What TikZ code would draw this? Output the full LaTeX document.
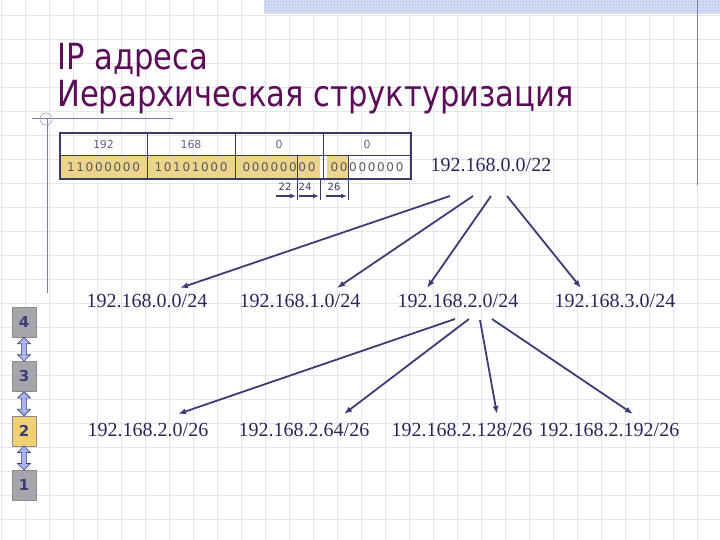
\documentclass[tikz,border=0pt]{standalone}
\usepackage{fontspec}
\setmainfont{Liberation Serif}
\newfontfamily\titlefont[FakeStretch=0.85]{DejaVu Sans}
\newfontfamily\smallfont{DejaVu Sans}
\newfontfamily\bitsfont[LetterSpace=14]{DejaVu Sans}
\usetikzlibrary{arrows.meta,shapes.arrows,patterns,positioning,calc}

\definecolor{gridcol}{RGB}{226,228,240}
\definecolor{bandcol}{RGB}{214,222,244}
\definecolor{bandcol2}{RGB}{160,180,225}
\definecolor{framecol}{RGB}{120,126,165}
\definecolor{titlecol}{RGB}{92,12,88}
\definecolor{tabcol}{RGB}{58,58,106}
\definecolor{cellfill}{RGB}{236,212,140}
\definecolor{ipcol}{RGB}{40,40,90}
\definecolor{arrcol}{RGB}{60,60,120}
\definecolor{boxgray}{RGB}{165,165,172}
\definecolor{boxyellow}{RGB}{240,208,112}
\definecolor{lvlarr}{RGB}{168,180,240}

\begin{document}
\begin{tikzpicture}[x=1pt,y=-1pt]
	\tikzset{title/.style={anchor=base west,inner sep=0pt,text=titlecol,font=\titlefont\fontsize{36}{38}\selectfont}}
	\tikzset{ipaddr/.style={inner sep=0pt,text=ipcol,font=\rmfamily\fontsize{20}{22}\selectfont}}
	\tikzset{octet/.style={inner sep=0pt,text=tabcol!80,font=\smallfont\fontsize{11}{12}\selectfont}}
	\tikzset{bits/.style={inner sep=0pt,text=black!65,font=\bitsfont\fontsize{12}{13}\selectfont}}
	\tikzset{masklbl/.style={inner sep=0pt,text=tabcol,font=\smallfont\fontsize{10}{11}\selectfont}}
	\tikzset{tree/.style={draw=arrcol,line width=1.8pt,-{Latex[length=8pt,width=6pt]}}}
	\tikzset{maskarr/.style={draw=arrcol,line width=1.5pt,-{Latex[length=6pt,width=5pt]}}}
	\tikzset{layer/.style={draw=black!45,fill=boxgray,minimum width=24pt,minimum height=30pt,inner sep=0pt,text=arrcol,font=\smallfont\bfseries\fontsize{15}{16}\selectfont}}
	\tikzset{updown/.style={shape=double arrow,rotate=90,draw=arrcol,fill=lvlarr,line width=0.6pt,minimum height=24pt,minimum width=13pt,double arrow head extend=2.5pt,inner sep=1.2pt}}
	\useasboundingbox (0,0) rectangle (720,540);
	% background grid
	\foreach \x in {1,25,...,721} \draw[gridcol,line width=0.7pt] (\x,0) -- (\x,540);
	\foreach \y in {15,39,...,540} \draw[gridcol,line width=0.7pt] (0,\y) -- (720,\y);
	\fill[bandcol] (264,0) rectangle (720,14);
	\fill[pattern=crosshatch dots,pattern color=bandcol2] (264,0) rectangle (720,12);
	\draw[framecol,line width=1pt] (697,0) -- (697,185);
	\draw[framecol,line width=1pt] (32,119) -- (173,119);
	\draw[framecol,line width=1pt] (47,119) -- (47,293);
	\draw[framecol!70,line width=0.6pt] (46,119) circle[radius=6pt];
	% title
	\node[title] (title1) at (57,70) {IP адреса};
	\node[title] (title2) at (57,107) {Иерархическая структуризация};
	% address table
	\fill[cellfill] (60,155) rectangle (320,179);
	\fill[cellfill] (327,155) rectangle (348,179);
	\draw[tabcol,line width=0.8pt] (60,155) -- (411,155);
	\foreach \x in {147,235,323} \draw[tabcol,line width=0.8pt] (\x,133) -- (\x,179);
	\draw[tabcol,line width=1.6pt] (60,133) rectangle (411,179);
	\foreach \v/\b/\x [count=\i] in {192/11000000/103.5,168/10101000/191,0/00000000/279,0/00000000/367}{
		\node[octet] (oct\i) at (\x,144) {\v};
		\node[bits] (bin\i) at (\x,167) {\b};
	}
	% mask borders
	\draw[tabcol,line width=0.8pt] (297,155) -- (297,200) coordinate (m24);
	\draw[tabcol,line width=0.8pt] (320,179) -- (320,200) coordinate (m26a);
	\draw[tabcol,line width=0.8pt] (348,155) -- (348,200) coordinate (m26);
	\coordinate (m22s) at (276,196);
	\coordinate (m24s) at (299,196);
	\coordinate (m26s) at (326,196);
	\draw[maskarr] (m22s) -- (296,196);
	\draw[maskarr] (m24s) -- (319,196);
	\draw[maskarr] (m26s) -- (347,196);
	\node[masklbl] (l22) at (285,187) {22};
	\node[masklbl] (l24) at (305,187) {24};
	\node[masklbl] (l26) at (334,187) {26};
	% networks
	\node[ipaddr] (net22) at (491,165) {192.168.0.0/22};
	\foreach \t/\x [count=\i] in {0/147,1/300,2/458,3/615}
		\node[ipaddr] (sub\i) at (\x,301) {192.168.\t.0/24};
	\node[ipaddr] (host1) at (148,430) {192.168.2.0/26};
	\node[ipaddr] (host2) at (304,430) {192.168.2.64/26};
	\node[ipaddr] (host3) at (462,430) {192.168.2.128/26};
	\node[ipaddr] (host4) at (609,430) {192.168.2.192/26};
	\draw[tree] ([xshift=-41pt,yshift=-24pt]net22.south) -- ([xshift=33pt,yshift=6pt]sub1.north);
	\draw[tree] ([xshift=-18pt,yshift=-24pt]net22.south) -- ([xshift=37pt,yshift=6pt]sub2.north);
	\draw[tree] ([xshift=0pt,yshift=-24pt]net22.south) -- ([xshift=-31pt,yshift=6pt]sub3.north);
	\draw[tree] ([xshift=16pt,yshift=-24pt]net22.south) -- ([xshift=-34pt,yshift=6pt]sub4.north);
	\draw[tree] ([xshift=-3pt,yshift=-11pt]sub3.south) -- ([xshift=30pt,yshift=9pt]host1.north);
	\draw[tree] ([xshift=11pt,yshift=-11pt]sub3.south) -- ([xshift=40pt,yshift=9pt]host2.north);
	\draw[tree] ([xshift=22pt,yshift=-12pt]sub3.south) -- ([xshift=35pt,yshift=9pt]host3.north);
	\draw[tree] ([xshift=34pt,yshift=-11pt]sub3.south) -- ([xshift=24pt,yshift=9pt]host4.north);
	% layers
	\node[layer] (layer4) at (24,322) {4};
	\node[layer,below=24pt of layer4] (layer3) {3};
	\node[layer,below=24pt of layer3,fill=boxyellow] (layer2) {2};
	\node[layer,below=24pt of layer2] (layer1) {1};
	\node[updown] (ud43) at ($(layer4)!0.5!(layer3)$) {};
	\node[updown] (ud32) at ($(layer3)!0.5!(layer2)$) {};
	\node[updown] (ud21) at ($(layer2)!0.5!(layer1)$) {};
\end{tikzpicture}
\end{document}
